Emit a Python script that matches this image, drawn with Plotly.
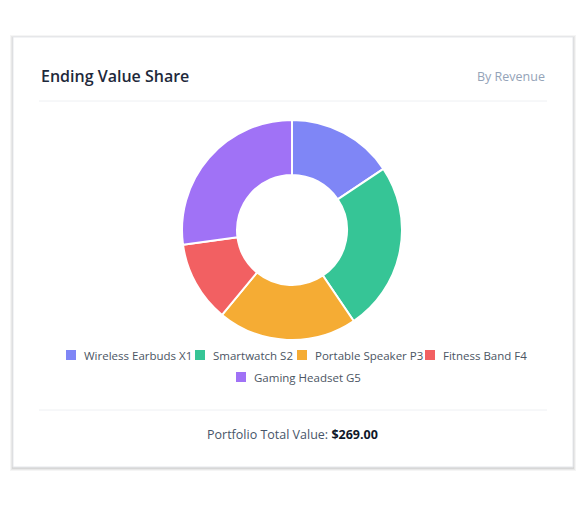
import plotly.graph_objects as go

products = ["Wireless Earbuds X1", "Smartwatch S2", "Portable Speaker P3", "Fitness Band F4", "Gaming Headset G5"]
values = [42, 67, 55, 32, 73]
colors = ["#7f86f6", "#36c596", "#f5ac34", "#f26062", "#a072f6"]

# legend layout (pixel positions of swatches)
legend_pos = [(71, 355), (200, 355), (302, 355), (430, 355), (241, 377)]

W, H = 585, 505
OFF = 8  # body margin of the page
def px(x): return (x - OFF) / W
def py(y): return 1 - (y - OFF) / H

fig = go.Figure()
fig.add_trace(go.Pie(
    labels=products, values=values, hole=0.5, sort=False, direction="clockwise",
    rotation=0, marker=dict(colors=colors, line=dict(color="white", width=2)),
    textinfo="none", showlegend=False, hoverinfo="label+value+percent",
    domain=dict(x=[px(182), px(402)], y=[py(340), py(120)]),
))

font = "Open Sans, Noto Sans, sans-serif"
shapes = []
for i, op in enumerate([0.04, 0.05, 0.07]):
    d = 3 - i
    shapes.append(dict(type="rect", xref="paper", yref="paper", x0=px(13 - d), x1=px(573 + d),
                       y0=py(467 + d + 1), y1=py(37 - d + 1), line=dict(width=0),
                       fillcolor=f"rgba(0,0,0,{op})", layer="below"))
shapes.append(dict(type="rect", xref="paper", yref="paper", x0=px(13), x1=px(573),
                   y0=py(467), y1=py(37), line=dict(color="#e5e7eb", width=1),
                   fillcolor="white", layer="below"))
for yy in (101, 410):
    shapes.append(dict(type="line", xref="paper", yref="paper", x0=px(39), x1=px(547),
                       y0=py(yy), y1=py(yy), line=dict(color="#eef0f3", width=1)))

annotations = [
    dict(text="Ending Value Share", xref="paper", yref="paper", x=px(39), y=py(76),
         xanchor="left", yanchor="middle", showarrow=False,
         font=dict(family=font, size=16, color="#1e293b", weight=600)),
    dict(text="By Revenue", xref="paper", yref="paper", x=px(547), y=py(76),
         xanchor="right", yanchor="middle", showarrow=False,
         font=dict(family=font, size=12.5, color="#94a3b8")),
    dict(text="Portfolio Total Value: <b style='color:#0f172a'>$269.00</b>", xref="paper", yref="paper",
         x=0.5 - OFF / W, y=py(434), xanchor="center", yanchor="middle", showarrow=False,
         font=dict(family=font, size=12.5, color="#475569")),
]
for name, c, (lx, ly) in zip(products, colors, legend_pos):
    shapes.append(dict(type="rect", xref="paper", yref="paper", x0=px(lx - 5), x1=px(lx + 5),
                       y0=py(ly + 5), y1=py(ly - 5), line=dict(width=0), fillcolor=c))
    annotations.append(dict(text=name, xref="paper", yref="paper", x=px(lx + 11), y=py(ly),
                            xanchor="left", yanchor="middle", showarrow=False,
                            font=dict(family=font, size=11.5, color="#4b5563")))

fig.update_layout(
    width=W, height=H, margin=dict(l=0, r=0, t=0, b=0),
    paper_bgcolor="white", plot_bgcolor="rgba(0,0,0,0)",
    xaxis=dict(visible=False), yaxis=dict(visible=False),
    shapes=shapes, annotations=annotations, showlegend=False,
)
fig.write_html("out.html")
